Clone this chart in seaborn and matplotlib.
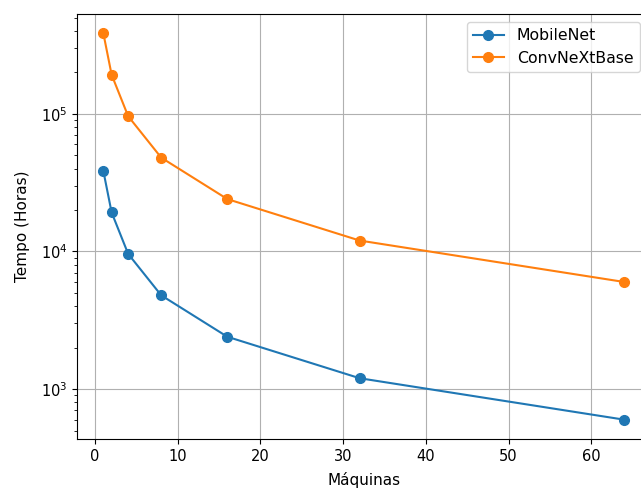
import matplotlib
matplotlib.use("Agg")
import matplotlib.pyplot as plt
import seaborn as sns
import pandas as pd

# Data
maquinas = [1, 2, 4, 8, 16, 32, 64]
mobilenet = [38400, 19200, 9600, 4800, 2400, 1200, 600]
convnext = [384000, 192000, 96000, 48000, 24000, 12000, 6000]

df = pd.DataFrame({
    'maquinas': maquinas,
    'MobileNet': mobilenet,
    'ConvNeXtBase': convnext,
})

fig = plt.figure(figsize=(6.41, 4.91), dpi=100)
ax = fig.add_axes([0.1206, 0.1059, 0.894, 0.8656])

# --------------------------------------------
# Lines
# --------------------------------------------
for name, color in [('MobileNet', 'C0'), ('ConvNeXtBase', 'C1')]:
    sns.lineplot(data=df, x='maquinas', y=name, ax=ax, color=color,
                 marker='o', markersize=7, markeredgecolor=color,
                 markeredgewidth=1, linewidth=1.5, label=name)

ax.set_yscale('log')
ax.grid(True, which='major', color='#b0b0b0', linewidth=0.8)
ax.set_axisbelow(True)
ax.spines['right'].set_visible(False)
ax.set_xlabel('Máquinas', fontsize=11, labelpad=6)
ax.set_ylabel('Tempo (Horas)', fontsize=11, labelpad=8)
ax.tick_params(labelsize=10.5)
ax.legend(loc='upper right', bbox_to_anchor=(0.995, 1.0), fontsize=11.3)

fig.savefig('out.png', dpi=100)
